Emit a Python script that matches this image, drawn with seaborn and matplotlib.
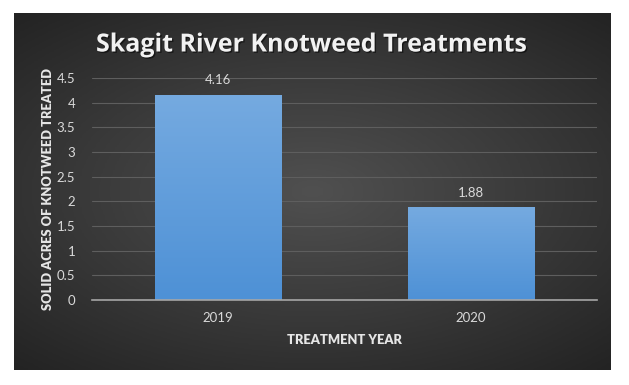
import numpy as np
import pandas as pd
import matplotlib
matplotlib.use("Agg")
import matplotlib.pyplot as plt
import seaborn as sns
from matplotlib.colors import LinearSegmentedColormap
import matplotlib.patheffects as pe

years = ["2019", "2020"]
acres = [4.16, 1.88]
y_ticks = [0, 0.5, 1, 1.5, 2, 2.5, 3, 3.5, 4, 4.5]
y_tick_labels = ["0", "0.5", "1", "1.5", "2", "2.5", "3", "3.5", "4", "4.5"]
title = "Skagit River Knotweed Treatments"
x_label = "TREATMENT YEAR"
y_label = "SOLID ACRES OF KNOTWEED TREATED"

df = pd.DataFrame({"year": years, "acres": acres})

sns.set_style("white")
plt.rcParams["font.family"] = ["Lato", "DejaVu Sans"]

W, H = 629, 385
fig = plt.figure(figsize=(W / 100, H / 100), dpi=100)
fig.patch.set_facecolor("white")

# Dark panel with radial gradient
bg = fig.add_axes([14 / W, (H - 370) / H, 597 / W, 357 / H])
yy, xx = np.mgrid[-1:1:200j, -1:1:300j]
r = np.sqrt((xx * 0.9) ** 2 + (yy * 1.0) ** 2)
bg_cmap = LinearSegmentedColormap.from_list("bg", ["#505050", "#3a3a3a", "#232323"])
bg.imshow(np.clip(r / 1.35, 0, 1), cmap=bg_cmap, aspect="auto", extent=[0, 1, 0, 1], vmin=0, vmax=1)
bg.set_axis_off()

ax = fig.add_axes([92 / W, (H - 300) / H, 505 / W, 222 / H])
ax.patch.set_alpha(0)
sns.barplot(data=df, x="year", y="acres", ax=ax, color="#5b9bd5", width=0.5,
            edgecolor="#3d6f9e", linewidth=0.6, zorder=3)

bar_cmap = LinearSegmentedColormap.from_list("bar", ["#75aae0", "#4e91d6"])
grad = np.linspace(0, 1, 100).reshape(-1, 1)
for p in ax.patches:
    x0, y0 = p.get_x(), p.get_y()
    w, h = p.get_width(), p.get_height()
    im = ax.imshow(grad, cmap=bar_cmap, aspect="auto", extent=[x0, x0 + w, y0, y0 + h],
                   origin="upper", zorder=3.5)
    im.set_clip_path(p)
    ax.text(x0 + w / 2, h + 0.17, f"{h:.2f}", ha="center", va="bottom",
            color="#d9d9d9", fontsize=9.5, zorder=5)

ax.set_xlim(-0.5, 1.5)
ax.set_ylim(0, 4.5)
ax.set_yticks(y_ticks)
ax.set_yticklabels(y_tick_labels)
ax.yaxis.grid(True, color="#5e5e5e", linewidth=0.8, zorder=0)
ax.set_axisbelow(True)
for s in ["top", "right", "left"]:
    ax.spines[s].set_visible(False)
ax.spines["bottom"].set_color("#a6a6a6")
ax.spines["bottom"].set_linewidth(1.2)
ax.spines["bottom"].set_zorder(6)
ax.tick_params(axis="both", length=0, colors="#d9d9d9", labelsize=9.5)
ax.tick_params(axis="y", pad=12)
ax.tick_params(axis="x", pad=9)

ax.set_xlabel(x_label, color="#e6e6e6", fontsize=9.3, fontweight="heavy", labelpad=7)
ax.set_ylabel(y_label, color="#e6e6e6", fontsize=9.3, fontweight="heavy", labelpad=2)

fig.text(312 / W, 1 - 45 / H, title, ha="center", va="center", color="#f2f2f2",
         fontsize=18, fontweight="bold", family=["Open Sans", "DejaVu Sans"],
         path_effects=[pe.withSimplePatchShadow(offset=(1, -1), shadow_rgbFace="black", alpha=0.5)])

fig.savefig("out.png", dpi=100, facecolor="white")
